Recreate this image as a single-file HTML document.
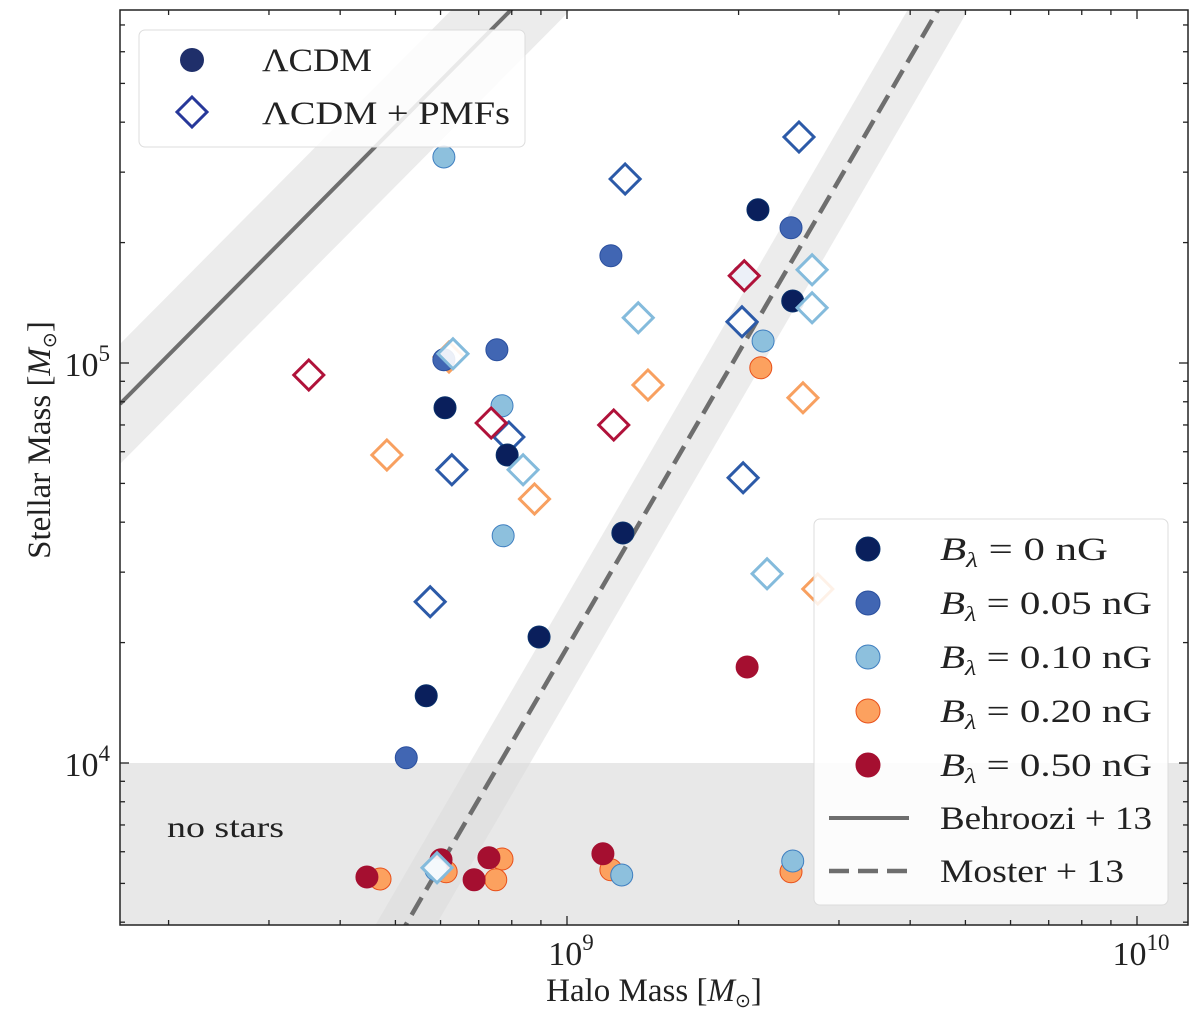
<!DOCTYPE html>
<html><head><meta charset="utf-8"><style>
html,body{margin:0;background:#fff;width:1200px;height:1017px;overflow:hidden}
svg{display:block;font-family:"Liberation Serif",serif}
</style></head><body>
<svg id="chart" width="1200" height="1017" xmlns="http://www.w3.org/2000/svg"></svg>
<script>
// data: log10 halo mass, log10 stellar mass
const circleGroups = ["0","0.05","0.10","0.20","0.50"];
const circ0x = [9.335,9.396,8.786,8.895,9.098,8.951,8.753];
const circ0y = [5.383,5.155,4.888,4.770,4.575,4.315,4.168];
const circ05x = [9.077,9.393,8.877,8.784,9.309,8.718];
const circ05y = [5.268,5.338,5.033,5.008,5.218,4.013];
const circ10x = [8.784,8.888,9.344,8.886,9.096,9.396,8.770];
const circ10y = [5.515,4.568,5.055,4.893,3.720,3.755,3.733];
const circ20x = [9.340,8.672,8.788,8.886,8.875,9.077,9.393];
const circ20y = [4.988,3.710,3.728,3.760,3.708,3.733,3.728];
const circ50x = [9.316,8.649,8.779,8.837,8.863,9.063];
const circ50y = [4.240,3.715,3.758,3.708,3.763,3.773];
const dia05x = [9.407,9.102,9.307,8.798,8.760,9.309,8.898];
const dia05y = [5.565,5.460,5.103,4.733,4.403,4.713,4.815];
const dia10x = [9.125,9.430,9.430,8.923,9.351,8.772,8.800];
const dia10y = [5.113,5.233,5.138,4.733,4.473,3.738,5.023];
const dia20x = [8.684,8.793,9.142,9.414,8.943,9.440];
const dia20y = [4.770,5.015,4.945,4.913,4.660,4.435];
const dia50x = [8.547,8.867,9.082,9.311];
const dia50y = [4.970,4.850,4.845,5.218];
const xTicks = [9,10];
const yTicks = [4,5];

const fill = {"0":"#0a1f5c","0.05":"#4166b3","0.10":"#8dc0dd","0.20":"#fca15f","0.50":"#a50f30"};
const edge = {"0":"#08306b","0.05":"#2a4f9e","0.10":"#3f7fc0","0.20":"#e8501a","0.50":"#a50f30"};
const diaStroke = {"0.05":"#2c5aa8","0.10":"#84bbdc","0.20":"#f8a060","0.50":"#b0123a"};

const X0=120,X1=1188,Y0=10,Y1=925;
const x = v => 567 + (v-9)*570;
const y = v => 363 - (v-5)*400;
const lx0 = 9+(X0-567)/570, lx1 = 9+(X1-567)/570;
const ly0 = 5-(Y1-363)/400, ly1 = 5-(Y0-363)/400;
const svg=document.getElementById('chart');
const NS="http://www.w3.org/2000/svg";
function mk(t,a,p){const e=document.createElementNS(NS,t);for(const k in a)e.setAttribute(k,a[k]);(p||svg).appendChild(e);return e;}
const SG='spacingAndGlyphs';

const cpth=mk('clipPath',{id:'clip'});
mk('rect',{x:X0,y:Y0,width:X1-X0,height:Y1-Y0},cpth);
const g=mk('g',{'clip-path':'url(#clip)'});

let ns=mk('rect',{x:X0,y:y(4),width:X1-X0,height:Y1-y(4),fill:'#e8e8e8'},g);



const bS=1.436,bA=4.895-1.436*8.214;
const bf=v=>bA+bS*v;
function band(f,off,name){const p=`${x(lx0)},${y(f(lx0)+off)} ${x(lx1)},${y(f(lx1)+off)} ${x(lx1)},${y(f(lx1)-off)} ${x(lx0)},${y(f(lx0)-off)}`;const e=mk('polygon',{points:p,fill:'#d9d9d9','fill-opacity':0.5},g);}
band(bf,0.15,'behroozi-band');
const mS=2.45,mA=3.595-2.45*8.717;
const mf=v=>mA+mS*v;
band(mf,0.13,'moster-band');
let bl=mk('line',{x1:x(lx0),y1:y(bf(lx0)),x2:x(lx1),y2:y(bf(lx1)),stroke:'#6e6e6e','stroke-width':4},g);

let ml=mk('line',{x1:x(lx0),y1:y(mf(lx0)),x2:x(lx1),y2:y(mf(lx1)),stroke:'#6e6e6e','stroke-width':4.5,'stroke-dasharray':'20,9'},g);


let t=mk('text',{x:167,y:837,'font-size':30,fill:'#222',textLength:117,lengthAdjust:SG},g);t.textContent='no stars';


function circles(xs,ys,key){for(let i=0;i<xs.length;i++){const c=mk('circle',{cx:x(xs[i]),cy:y(ys[i]),r:11,fill:fill[key],stroke:edge[key],'stroke-width':1},g);

}}
function diamonds(xs,ys,key){for(let i=0;i<xs.length;i++){const cx=x(xs[i]),cy=y(ys[i]),s=15;const d=mk('polygon',{points:`${cx},${cy-s} ${cx+s},${cy} ${cx},${cy+s} ${cx-s},${cy}`,fill:'#fff','fill-opacity':0.9,stroke:diaStroke[key],'stroke-width':3},g);

}}
diamonds(dia20x,dia20y,"0.20");diamonds(dia05x,dia05y,"0.05");
circles(circ20x,circ20y,"0.20");circles(circ50x,circ50y,"0.50");circles(circ10x,circ10y,"0.10");circles(circ05x,circ05y,"0.05");circles(circ0x,circ0y,"0");
diamonds(dia10x,dia10y,"0.10");diamonds(dia50x,dia50y,"0.50");

let fr=mk('rect',{x:X0,y:Y0,width:X1-X0,height:Y1-Y0,fill:'none',stroke:'#222','stroke-width':1.5});

for(let d=8;d<=10;d++)for(let m=1;m<10;m++){const v=d+Math.log10(m);if(v<lx0||v>lx1)continue;const L=m==1?9:5,px=x(v);
mk('line',{x1:px,y1:Y1,x2:px,y2:Y1-L,stroke:'#222','stroke-width':1.3});mk('line',{x1:px,y1:Y0,x2:px,y2:Y0+L,stroke:'#222','stroke-width':1.3});}
for(let d=3;d<=5;d++)for(let m=1;m<10;m++){const v=d+Math.log10(m);if(v<ly0||v>ly1)continue;const L=m==1?9:5,py=y(v);
mk('line',{x1:X0,y1:py,x2:X0+L,y2:py,stroke:'#222','stroke-width':1.3});mk('line',{x1:X1,y1:py,x2:X1-L,y2:py,stroke:'#222','stroke-width':1.3});}
xTicks.forEach(v=>{const e=mk('text',{x:x(v)+4,y:965,'font-size':34,'text-anchor':'middle',fill:'#222'});e.innerHTML=`10<tspan dy="-15" font-size="23">${v}</tspan>`;});
yTicks.forEach(v=>{const e=mk('text',{x:110,y:y(v)+13,'font-size':34,'text-anchor':'end',fill:'#222'});e.innerHTML=`10<tspan dy="-15" font-size="23">${v}</tspan>`;});
let xt=mk('text',{x:654,y:1001,'font-size':33,'text-anchor':'middle',fill:'#222'});xt.innerHTML='Halo Mass [<tspan font-style="italic">M</tspan><tspan font-size="19" dy="6">⊙</tspan><tspan dy="-6">]</tspan>';

let yt=mk('text',{x:0,y:0,'font-size':33,'text-anchor':'middle',fill:'#222',transform:'translate(50,440) rotate(-90)'});yt.innerHTML='Stellar Mass [<tspan font-style="italic">M</tspan><tspan font-size="19" dy="6">⊙</tspan><tspan dy="-6">]</tspan>';


const lg1=mk('g',{});
mk('rect',{x:139,y:30,width:386,height:117,rx:6,fill:'#fff','fill-opacity':0.85,stroke:'#ddd'},lg1);
mk('circle',{cx:192,cy:60,r:12,fill:'#1f2f6a'},lg1);
mk('polygon',{points:'192,97 207,112 192,127 177,112',fill:'#fff',stroke:'#27389a','stroke-width':3},lg1);
let a1=mk('text',{x:262,y:71,'font-size':33,fill:'#222',textLength:110,lengthAdjust:SG},lg1);a1.textContent='ΛCDM';
let a2=mk('text',{x:262,y:124,'font-size':33,fill:'#222',textLength:248,lengthAdjust:SG},lg1);a2.textContent='ΛCDM + PMFs';

const lg2=mk('g',{});
mk('rect',{x:814,y:519,width:354,height:386,rx:6,fill:'#fff','fill-opacity':0.85,stroke:'#ddd'},lg2);
const labs=["0","0.05","0.10","0.20","0.50"];
labs.forEach((k,i)=>{const cy=549+i*54;mk('circle',{cx:868,cy:cy,r:12,fill:fill[k],stroke:edge[k]},lg2);
const e=mk('text',{x:940,y:cy+11,'font-size':33,fill:'#222',lengthAdjust:SG},lg2);e.innerHTML=`<tspan font-style="italic">B</tspan><tspan font-style="italic" font-size="21" dy="7">λ</tspan><tspan dy="-7"> = ${k} nG</tspan>`;
if(k!=="0")e.setAttribute('textLength',212);else e.setAttribute('textLength',168);});
mk('line',{x1:829,y1:818,x2:909,y2:818,stroke:'#6e6e6e','stroke-width':4},lg2);
mk('line',{x1:829,y1:871,x2:909,y2:871,stroke:'#6e6e6e','stroke-width':4.5,'stroke-dasharray':'20,9'},lg2);
let b1=mk('text',{x:940,y:829,'font-size':33,fill:'#222',textLength:212,lengthAdjust:SG},lg2);b1.textContent='Behroozi + 13';
let b2=mk('text',{x:940,y:882,'font-size':33,fill:'#222',textLength:184,lengthAdjust:SG},lg2);b2.textContent='Moster + 13';
</script>
</body></html>
